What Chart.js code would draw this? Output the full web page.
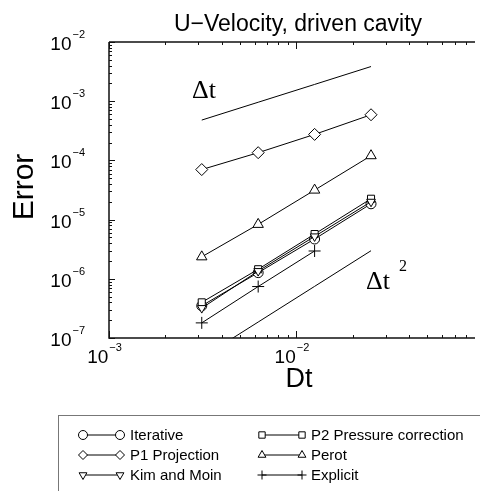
<!DOCTYPE html>
<html>
<head>
<meta charset="utf-8">
<script src="https://cdn.jsdelivr.net/npm/chart.js@4"></script>
<style>
    html, body { margin: 0; padding: 0; background: #fff; overflow: hidden; }
    #wrap { position: relative; width: 480px; height: 491px; }
</style>
</head>
<body>
<div id="wrap"><canvas id="cavityChart"></canvas></div>
<script>
// --------------------------------------------------------------------
// DATA
// --------------------------------------------------------------------
const dt = [0.003125, 0.00625, 0.0125, 0.025];
const iterative = [3.5e-7, 1.27e-6, 4.7e-6, 1.85e-5];
const p1Projection = [7.0e-5, 1.35e-4, 2.75e-4, 5.9e-4];
const kimMoin = [3.2e-7, 1.35e-6, 5.2e-6, 2.0e-5];
const p2Pressure = [4.0e-7, 1.45e-6, 5.7e-6, 2.25e-5];
const perot = [2.35e-6, 8.3e-6, 3.15e-5, 1.2e-4];
const explicit = [1.8e-7, 7.4e-7, 2.95e-6];
const slopeOne = [4.8e-4, 9.6e-4, 1.92e-3, 3.85e-3];
const slopeTwo = [4.65e-8, 1.86e-7, 7.45e-7, 2.98e-6];

const xMin = 0.001, xMax = 0.0875;
const yMin = 1e-7, yMax = 1e-2;
const xTickExps = [-3, -2];
const yTickExps = [-7, -6, -5, -4, -3, -2];

const SANS = '"Liberation Sans", Arial, Helvetica, sans-serif';
const SERIF = '"Liberation Serif", "Times New Roman", serif';

const pts = (ys) => ys.map((y, i) => ({ x: dt[i], y: y }));

function series(label, ys, style, radius, rotation) {
    return {
        label: label,
        data: pts(ys),
        borderColor: "#000",
        borderWidth: 1,
        pointStyle: style,
        pointRadius: radius,
        pointRotation: rotation || 0,
        pointBorderColor: "#000",
        pointBackgroundColor: "#fff",
        pointBorderWidth: 1
    };
}

function refLine(ys) {
    return {
        label: "",
        data: pts(ys),
        borderColor: "#000",
        borderWidth: 1,
        pointRadius: 0
    };
}

// legend entries: [label, style, rotation, column, row]
const legendItems = [
    ["Iterative", "circle", 0, 0, 0],
    ["P1 Projection", "rectRot", 0, 0, 1],
    ["Kim and Moin", "triangle", 180, 0, 2],
    ["P2 Pressure correction", "rect", 0, 1, 0],
    ["Perot", "triangle", 0, 1, 1],
    ["Explicit", "cross", 0, 1, 2]
];

// --------------------------------------------------------------------
// helpers
// --------------------------------------------------------------------
function drawPow(ctx, x, y, exp, align, size) {
    const base = "10";
    const sup = "\u2212" + Math.abs(exp);
    ctx.font = size + "px " + SANS;
    const wb = ctx.measureText(base).width;
    ctx.font = Math.round(size * 0.6) + "px " + SANS;
    const ws = ctx.measureText(sup).width;
    let x0 = x;
    if (align === "right") x0 = x - wb - ws;
    if (align === "center") x0 = x - (wb + ws) / 2;
    ctx.textAlign = "left";
    ctx.textBaseline = "alphabetic";
    ctx.font = size + "px " + SANS;
    ctx.fillText(base, x0, y);
    ctx.font = Math.round(size * 0.6) + "px " + SANS;
    ctx.fillText(sup, x0 + wb + 1, y - 12);
}

const decorPlugin = {
    id: "decor",
    afterDraw(chart) {
        const ctx = chart.ctx;
        const a = chart.chartArea;
        const xs = chart.scales.x;
        const ys = chart.scales.y;
        ctx.save();

        // frame
        ctx.strokeStyle = "#111";
        ctx.lineWidth = 1.5;
        ctx.beginPath();
        ctx.moveTo(a.left, a.top);
        ctx.lineTo(a.right + 2, a.top);
        ctx.moveTo(a.left, a.top);
        ctx.lineTo(a.left, a.bottom);
        ctx.lineTo(a.right + 2, a.bottom);
        ctx.stroke();

        // minor / major ticks, inward
        ctx.lineWidth = 1;
        for (let d = -3; d <= -1; d++) {
            for (let k = 1; k <= 9; k++) {
                const v = k * Math.pow(10, d);
                if (v < xMin || v > xMax) continue;
                const px = Math.round(xs.getPixelForValue(v)) + 0.5;
                const len = k === 1 ? 7 : 3;
                ctx.beginPath();
                ctx.moveTo(px, a.bottom);
                ctx.lineTo(px, a.bottom - len);
                ctx.moveTo(px, a.top);
                ctx.lineTo(px, a.top + len);
                ctx.stroke();
            }
        }
        for (let d = -7; d <= -2; d++) {
            for (let k = 1; k <= 9; k++) {
                const v = k * Math.pow(10, d);
                if (v < yMin || v > yMax) continue;
                const py = Math.round(ys.getPixelForValue(v)) + 0.5;
                const len = k === 1 ? 6 : 3;
                ctx.beginPath();
                ctx.moveTo(a.left, py);
                ctx.lineTo(a.left + len, py);
                ctx.stroke();
            }
        }

        ctx.fillStyle = "#000";
        // tick labels
        yTickExps.forEach(e => {
            const py = ys.getPixelForValue(Math.pow(10, e));
            drawPow(ctx, a.left - 25, py + 8, e, "right", 19);
        });
        xTickExps.forEach(e => {
            const px = xs.getPixelForValue(Math.pow(10, e));
            drawPow(ctx, px - 5, a.bottom + 25, e, "center", 19);
        });

        // titles
        ctx.textAlign = "center";
        ctx.textBaseline = "alphabetic";
        ctx.font = "23px " + SANS;
        ctx.fillText("U\u2212Velocity, driven cavity", 298, 31);
        ctx.font = "27px " + SANS;
        ctx.fillText("Dt", 299, 387);
        ctx.save();
        ctx.translate(33, 187);
        ctx.rotate(-Math.PI / 2);
        ctx.font = "30px " + SANS;
        ctx.fillText("Error", 0, 0);
        ctx.restore();

        // slope annotations
        ctx.textAlign = "left";
        ctx.font = "26px " + SERIF;
        ctx.fillText("\u0394t", 192, 98);
        ctx.fillText("\u0394t", 366, 289);
        ctx.font = "16px " + SERIF;
        ctx.fillText("2", 399, 271);

        // legend box
        ctx.strokeStyle = "#777";
        ctx.lineWidth = 1;
        ctx.strokeRect(58.5, 415.5, 440, 100);

        const colX = [[83, 120, 130], [262, 302, 311]];
        const rowY = [435, 455, 475];
        ctx.font = "15px " + SANS;
        ctx.textBaseline = "middle";
        legendItems.forEach(([label, style, rot, c, r]) => {
            const [m1, m2, tx] = colX[c];
            const y = rowY[r];
            ctx.strokeStyle = "#000";
            ctx.lineWidth = 1;
            ctx.beginPath();
            ctx.moveTo(m1, y);
            ctx.lineTo(m2, y);
            ctx.stroke();
            ctx.fillStyle = "#fff";
            Chart.helpers.drawPoint(ctx, { pointStyle: style, radius: 4.5, rotation: rot, borderWidth: 1 }, m1, y);
            Chart.helpers.drawPoint(ctx, { pointStyle: style, radius: 4.5, rotation: rot, borderWidth: 1 }, m2, y);
            ctx.fillStyle = "#000";
            ctx.fillText(label, tx, y + 1);
        });

        ctx.restore();
    }
};

// --------------------------------------------------------------------
// CHART
// --------------------------------------------------------------------
const ctx = document.getElementById("cavityChart").getContext("2d");

new Chart(ctx, {
    type: "line",
    data: {
        datasets: [
            refLine(slopeOne),
            refLine(slopeTwo),
            series("Explicit", explicit, "cross", 6),
            series("Perot", perot, "triangle", 6),
            series("P1 Projection", p1Projection, "rectRot", 6),
            series("Kim and Moin", kimMoin, "triangle", 5, 180),
            series("P2 Pressure correction", p2Pressure, "rect", 5),
            series("Iterative", iterative, "circle", 5)
        ]
    },
    options: {
        responsive: true,
        maintainAspectRatio: false,
        animation: false,
        events: [],
        layout: { padding: { left: 109, right: 0, top: 42, bottom: 153 } },
        plugins: {
            legend: { display: false },
            title: { display: false },
            tooltip: { enabled: false }
        },
        scales: {
            x: { type: "logarithmic", min: xMin, max: xMax, display: false },
            y: { type: "logarithmic", min: yMin, max: yMax, display: false }
        }
    },
    plugins: [decorPlugin]
});
</script>
</body>
</html>
